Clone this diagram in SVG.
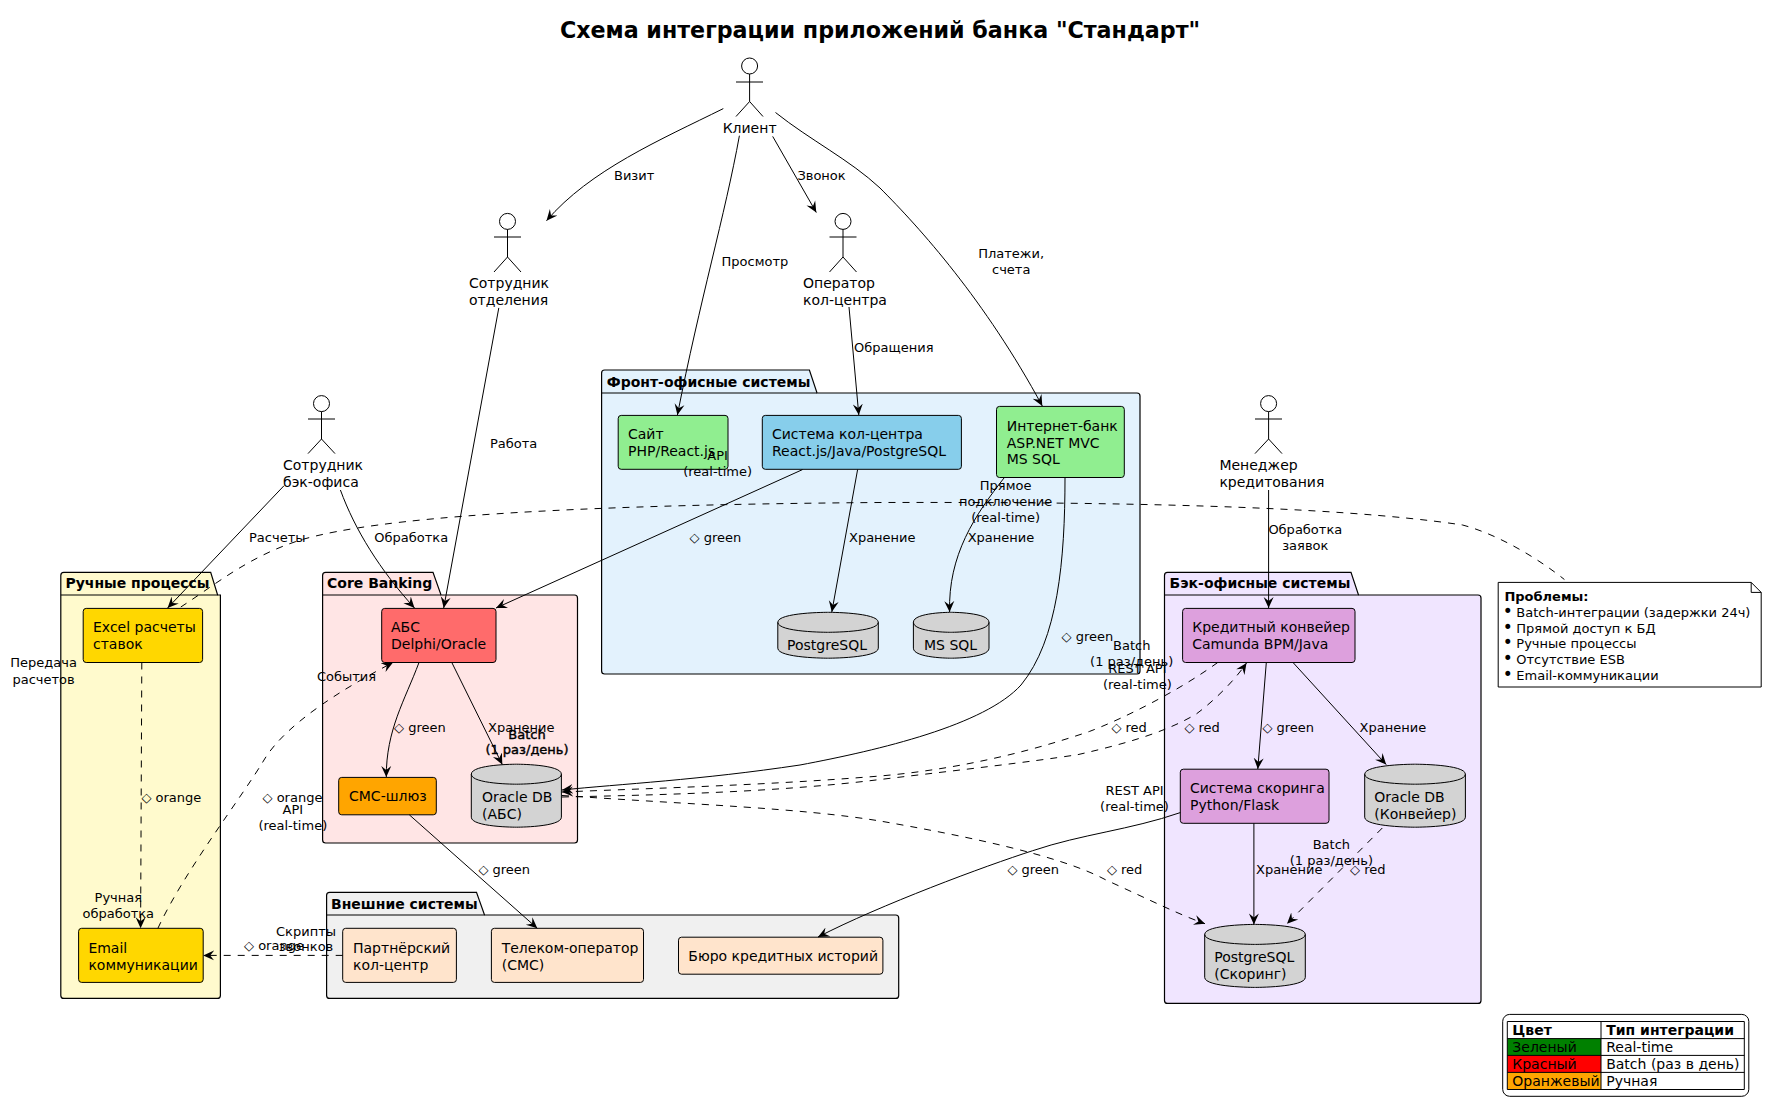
<svg xmlns="http://www.w3.org/2000/svg" width="1767" height="1108" viewBox="0 0 1767 1108">
<defs>
<marker id="a" markerUnits="userSpaceOnUse" markerWidth="14" markerHeight="12" refX="11" refY="6" orient="auto"><path d="M0,1 L11,6 L0,11 L4,6 Z" fill="#000"/></marker>
</defs>
<style>
text{font-family:"DejaVu Sans",sans-serif;fill:#000}
.t{font-size:14px}
.l{font-size:13px}
.m{text-anchor:middle}
.b{font-weight:bold}
.d{stroke-dasharray:7 7}
.e path{fill:none;stroke:#000;stroke-width:1;marker-end:url(#a)}
.p{stroke:#000;stroke-width:1.2}
.n{stroke:#000;stroke-width:1}
.db{fill:#D3D3D3;stroke:#000;stroke-width:1}
.act{fill:none;stroke:#000;stroke-width:1}
.bu{font-size:17px}
</style>
<rect width="1767" height="1108" fill="#fff"/>
<text id="title" x="880" y="38" class="b m" font-size="22.2">Схема интеграции приложений банка "Стандарт"</text>

<g id="pkg-front"><path class="p" fill="#E3F2FD" d="M601.6,393 V373 Q601.6,370 604.6,370 H809.4 L817,393 H1137 Q1140,393 1140,396 V671 Q1140,674 1137,674 H604.6 Q601.6,674 601.6,671 Z"/><path class="p" fill="none" d="M601.6,393 H817"/><text x="606.8" y="387" class="t b">Фронт-офисные системы</text></g>
<g id="pkg-core"><path class="p" fill="#FFE5E5" d="M322.6,595 V575.4 Q322.6,572.4 325.6,572.4 H433 L441,595 H574.5 Q577.5,595 577.5,598 V840 Q577.5,843 574.5,843 H325.6 Q322.6,843 322.6,840 Z"/><path class="p" fill="none" d="M322.6,595 H441"/><text x="327" y="588" class="t b">Core Banking</text></g>
<g id="pkg-manual"><path class="p" fill="#FFFACD" d="M60.8,595 V575.4 Q60.8,572.4 63.8,572.4 H210.7 L217.6,595 H220.4 V995.4 Q220.4,998.4 217.4,998.4 H63.8 Q60.8,998.4 60.8,995.4 Z"/><path class="p" fill="none" d="M60.8,595 H217.6"/><text x="65.4" y="588" class="t b">Ручные процессы</text></g>
<g id="pkg-ext"><path class="p" fill="#F0F0F0" d="M326.6,915 V895.3 Q326.6,892.3 329.6,892.3 H476.5 L484.5,915 H895.7 Q898.7,915 898.7,918 V995.4 Q898.7,998.4 895.7,998.4 H329.6 Q326.6,998.4 326.6,995.4 Z"/><path class="p" fill="none" d="M326.6,915 H484.5"/><text x="331" y="908.7" class="t b">Внешние системы</text></g>
<g id="pkg-back"><path class="p" fill="#F0E5FF" d="M1164.5,595 V575.4 Q1164.5,572.4 1167.5,572.4 H1351 L1358.5,595 H1478 Q1481,595 1481,598 V1000.4 Q1481,1003.4 1478,1003.4 H1167.5 Q1164.5,1003.4 1164.5,1000.4 Z"/><path class="p" fill="none" d="M1164.5,595 H1358.5"/><text x="1169.6" y="588" class="t b">Бэк-офисные системы</text></g>

<g id="n-site"><rect class="n" x="618.2" y="415.4" width="109.8" height="53.9" rx="3" fill="#90EE90"/><text class="t" x="628" y="438.6">Сайт</text><text class="t" x="628" y="455.7">PHP/React.js</text></g>
<g id="n-callcenter"><rect class="n" x="762.3" y="415.4" width="199.1" height="53.9" rx="3" fill="#87CEEB"/><text class="t" x="772" y="438.6">Система кол-центра</text><text class="t" x="772" y="455.7">React.js/Java/PostgreSQL</text></g>
<g id="n-ibank"><rect class="n" x="996.5" y="406.4" width="127.8" height="71.1" rx="3" fill="#90EE90"/><text class="t" x="1006.7" y="430.7">Интернет-банк</text><text class="t" x="1006.7" y="447.5">ASP.NET MVC</text><text class="t" x="1006.7" y="464.3">MS SQL</text></g>
<g id="n-pg"><path class="db" d="M777.8,622.3 C777.8,612.3 828,612.3 828,612.3 C828,612.3 878.3,612.3 878.3,622.3 V648.2 C878.3,658.2 828,658.2 828,658.2 C828,658.2 777.8,658.2 777.8,648.2 Z"/><path class="db" style="fill:none" d="M777.8,622.3 C777.8,632.3 828,632.3 828,632.3 C828,632.3 878.3,632.3 878.3,622.3"/><text class="t" x="787" y="649.6">PostgreSQL</text></g>
<g id="n-mssql"><path class="db" d="M913.4,622.3 C913.4,612.3 951,612.3 951,612.3 C951,612.3 989,612.3 989,622.3 V648.2 C989,658.2 951,658.2 951,658.2 C951,658.2 913.4,658.2 913.4,648.2 Z"/><path class="db" style="fill:none" d="M913.4,622.3 C913.4,632.3 951,632.3 951,632.3 C951,632.3 989,632.3 989,622.3"/><text class="t" x="924" y="649.6">MS SQL</text></g>
<g id="n-abs"><rect class="n" x="381.7" y="608.4" width="114.3" height="54.1" rx="3" fill="#FF6B6B"/><text class="t" x="391" y="631.5">АБС</text><text class="t" x="391" y="648.6">Delphi/Oracle</text></g>
<g id="n-sms"><rect class="n" x="338.7" y="777.4" width="97.6" height="37.4" rx="3" fill="#FFA500"/><text class="t" x="349" y="801">СМС-шлюз</text></g>
<g id="n-oracle-abs"><path class="db" d="M471.3,774.2 C471.3,764.2 516.4,764.2 516.4,764.2 C516.4,764.2 561.4,764.2 561.4,774.2 V817.2 C561.4,827.2 516.4,827.2 516.4,827.2 C516.4,827.2 471.3,827.2 471.3,817.2 Z"/><path class="db" style="fill:none" d="M471.3,774.2 C471.3,784.2 516.4,784.2 516.4,784.2 C516.4,784.2 561.4,784.2 561.4,774.2"/><text class="t" x="482" y="802">Oracle DB</text><text class="t" x="482" y="819.4">(АБС)</text></g>
<g id="n-excel"><rect class="n" x="83.2" y="608.4" width="119.4" height="54.1" rx="3" fill="#FFD700"/><text class="t" x="93" y="631.5">Excel расчеты</text><text class="t" x="93" y="648.6">ставок</text></g>
<g id="n-email"><rect class="n" x="78.6" y="928.3" width="124.6" height="54.1" rx="3" fill="#FFD700"/><text class="t" x="88.4" y="952.8">Email</text><text class="t" x="88.4" y="970">коммуникации</text></g>
<g id="n-partner"><rect class="n" x="342.7" y="928.3" width="113.7" height="54.1" rx="3" fill="#FFE4CC"/><text class="t" x="353" y="952.8">Партнёрский</text><text class="t" x="353" y="970">кол-центр</text></g>
<g id="n-telecom"><rect class="n" x="491.4" y="928.3" width="152.1" height="54.1" rx="3" fill="#FFE4CC"/><text class="t" x="501.7" y="952.8">Телеком-оператор</text><text class="t" x="501.7" y="970">(СМС)</text></g>
<g id="n-bureau"><rect class="n" x="678.5" y="937.2" width="204.4" height="37" rx="3" fill="#FFE4CC"/><text class="t" x="688.3" y="961">Бюро кредитных историй</text></g>
<g id="n-credit"><rect class="n" x="1182.6" y="608.4" width="172.4" height="54.1" rx="3" fill="#DDA0DD"/><text class="t" x="1192.2" y="631.5">Кредитный конвейер</text><text class="t" x="1192.2" y="648.6">Camunda BPM/Java</text></g>
<g id="n-scoring"><rect class="n" x="1180.3" y="769.2" width="148.7" height="54.1" rx="3" fill="#DDA0DD"/><text class="t" x="1190" y="792.7">Система скоринга</text><text class="t" x="1190" y="809.8">Python/Flask</text></g>
<g id="n-oracle-conv"><path class="db" d="M1364.7,774.2 C1364.7,764.2 1415,764.2 1415,764.2 C1415,764.2 1465.4,764.2 1465.4,774.2 V817.2 C1465.4,827.2 1415,827.2 1415,827.2 C1415,827.2 1364.7,827.2 1364.7,817.2 Z"/><path class="db" style="fill:none" d="M1364.7,774.2 C1364.7,784.2 1415,784.2 1415,784.2 C1415,784.2 1465.4,784.2 1465.4,774.2"/><text class="t" x="1374.3" y="802">Oracle DB</text><text class="t" x="1374.3" y="819.4">(Конвейер)</text></g>
<g id="n-pg-scoring"><path class="db" d="M1204.7,934.4 C1204.7,924.4 1255,924.4 1255,924.4 C1255,924.4 1305.3,924.4 1305.3,934.4 V977.4 C1305.3,987.4 1255,987.4 1255,987.4 C1255,987.4 1204.7,987.4 1204.7,977.4 Z"/><path class="db" style="fill:none" d="M1204.7,934.4 C1204.7,944.4 1255,944.4 1255,944.4 C1255,944.4 1305.3,944.4 1305.3,934.4"/><text class="t" x="1214.3" y="961.7">PostgreSQL</text><text class="t" x="1214.3" y="978.8">(Скоринг)</text></g>

<g id="connectors" class="e">
<path d="M723.3,108.6 C660,140 590,170 546.5,220.7"/>
<path d="M739.4,135.7 C725,215 700,300 677.4,415"/>
<path d="M772.7,136.4 L816.3,212.5"/>
<path d="M775.5,112.5 C810,140 850,160 880,188 C920,228 985,300 1042.3,406"/>
<path d="M498.8,307.9 L443.7,608"/>
<path d="M849,307 L858.8,415"/>
<path d="M1268.6,490 V608"/>
<path d="M284,485.7 L167.6,608"/>
<path d="M340.4,490 C355,530 380,570 414.5,608"/>
<path d="M802.5,469.6 L496,608"/>
<path d="M857.6,469.6 L831.8,612"/>
<path d="M1004.4,477.5 C975,515 948,555 949.6,612"/>
<path d="M1065,477.5 C1065,560 1058,640 1021,685 C985,725 880,750 800,765 C700,780 620,784 562,790"/>
<path d="M419,662.5 C405,700 386,730 386.3,777"/>
<path d="M451.8,662.5 L502.3,764.6"/>
<path d="M409.3,814.8 L537.3,928.3"/>
<path class="d" d="M141.8,662.5 L140.6,928.3"/>
<path class="d" d="M157.9,928.3 C185,870 240,800 264,760 C285,725 340,690 393,662.5"/>
<path class="d" d="M342.7,955.4 H203.2"/>
<path class="d" d="M1217.7,662.5 C1180,690 1125,718 1089.3,731.5 C1020,755 950,770 880,776 C770,785 660,788 562,792"/>
<path class="d" d="M562,797 C660,795 780,792 880,779.5 C960,770 1030,762 1078,754.6 C1120,745 1165,733 1196.7,713.7 C1215,700 1235,680 1246.5,663"/>
<path class="d" d="M562,795.5 C700,805 800,808 880,821 C960,835 1060,855 1106,880 C1150,900 1180,915 1205,923.7"/>
<path d="M1266.3,662.5 L1257.8,769"/>
<path d="M1293,662.5 L1386.2,764.6"/>
<path d="M1253.9,823.3 V924.4"/>
<path d="M1180.3,812.6 C1130,830 1082,834 1032.7,850.7 C985,866 880,905 818,937"/>
<path class="d" d="M1382.3,828 L1287,923.7"/>
<path class="d" style="marker-end:none" d="M180.8,607 C215,585 250,555 304,539 C380,518 550,505 880,502.5 C1100,502 1330,505 1462.6,525 C1500,535 1540,560 1564.4,579.5"/>
</g>

<g id="a-client"><ellipse class="act" cx="749.6" cy="66" rx="8" ry="8"/><path class="act" d="M749.6,74 V101.5 M736,82 H763 M736,116.5 L749.6,101.5 L763,116.5"/><text class="t m" x="749.6" y="133">Клиент</text></g>
<g id="a-branch"><ellipse class="act" cx="507.5" cy="221.4" rx="8" ry="8"/><path class="act" d="M507.5,229.4 V257 M494,237 H521 M494,272 L507.5,257 L521,272"/><text class="t" x="469" y="288">Сотрудник</text><text class="t" x="469" y="304.5">отделения</text></g>
<g id="a-operator"><ellipse class="act" cx="843" cy="221.4" rx="8" ry="8"/><path class="act" d="M843,229.4 V257 M829.5,237 H856.5 M829.5,272 L843,257 L856.5,272"/><text class="t" x="803" y="288">Оператор</text><text class="t" x="803" y="304.5">кол-центра</text></g>
<g id="a-backoffice"><ellipse class="act" cx="321.5" cy="403.6" rx="8" ry="8"/><path class="act" d="M321.5,411.6 V439 M308,419 H335 M308,453.6 L321.5,439 L335,453.6"/><text class="t" x="283" y="470">Сотрудник</text><text class="t" x="283" y="487">бэк-офиса</text></g>
<g id="a-manager"><ellipse class="act" cx="1268.6" cy="403.6" rx="8" ry="8"/><path class="act" d="M1268.6,411.6 V439 M1255,419 H1282 M1255,453.6 L1268.6,439 L1282,453.6"/><text class="t" x="1219.4" y="470">Менеджер</text><text class="t" x="1219.4" y="487">кредитования</text></g>

<g id="edge-labels">
<text class="l" x="614" y="179.6">Визит</text>
<text class="l" x="797.4" y="179.6">Звонок</text>
<text class="l" x="721.6" y="266">Просмотр</text>
<text class="l" x="490" y="447.5">Работа</text>
<text class="l" x="854" y="351.8">Обращения</text>
<text class="l m" x="1011.2" y="258">Платежи,</text><text class="l m" x="1011.2" y="274">счета</text>
<text class="l m" x="717.6" y="459.6">API</text><text class="l m" x="717.6" y="476">(real-time)</text>
<text class="l" x="249" y="541.8">Расчеты</text>
<text class="l" x="374.3" y="541.8">Обработка</text>
<text class="l" x="689.6" y="541.8">◇ green</text>
<text class="l" x="849" y="541.8">Хранение</text>
<text class="l" x="967.7" y="541.8">Хранение</text>
<text class="l m" x="1005.6" y="489.6">Прямое</text><text class="l m" x="1005.6" y="506">подключение</text><text class="l m" x="1005.6" y="521.8">(real-time)</text>
<text class="l m" x="1305.3" y="534">Обработка</text><text class="l m" x="1305.3" y="550">заявок</text>
<text class="l m" x="43.6" y="667.4">Передача</text><text class="l m" x="43.6" y="683.5">расчетов</text>
<text class="l" x="316.9" y="680.6">События</text>
<text class="l" x="394" y="731.8">◇ green</text>
<text class="l" x="488" y="731.8">Хранение</text>
<text class="l m" x="527" y="738.6" stroke="#000" stroke-width=".4">Batch</text><text class="l m" x="527" y="754.3" stroke="#000" stroke-width=".4">(1 раз/день)</text>
<text class="l" x="141.4" y="801.6">◇ orange</text>
<text class="l" x="262.5" y="801.6">◇ orange</text>
<text class="l m" x="292.8" y="813.7">API</text><text class="l m" x="292.8" y="829.7">(real-time)</text>
<text class="l" x="478.4" y="873.8">◇ green</text>
<text class="l m" x="118.3" y="901.6">Ручная</text><text class="l m" x="118.3" y="917.6">обработка</text>
<text class="l m" x="306" y="935.8">Скрипты</text><text class="l m" x="306" y="951.4">звонков</text>
<text class="l" x="244" y="950">◇ orange</text>
<text class="l" x="1061.6" y="641">◇ green</text>
<text class="l m" x="1131.7" y="649.6">Batch</text><text class="l m" x="1131.7" y="666.4">(1 раз/день)</text>
<text class="l m" x="1137.4" y="673">REST API</text><text class="l m" x="1137.4" y="688.8">(real-time)</text>
<text class="l" x="1111.4" y="731.5">◇ red</text>
<text class="l" x="1184.4" y="731.5">◇ red</text>
<text class="l" x="1262.4" y="731.5">◇ green</text>
<text class="l" x="1359.6" y="731.5">Хранение</text>
<text class="l m" x="1134.5" y="794.8">REST API</text><text class="l m" x="1134.5" y="810.9">(real-time)</text>
<text class="l" x="1007.4" y="873.8">◇ green</text>
<text class="l" x="1106.9" y="873.8">◇ red</text>
<text class="l m" x="1331.4" y="849">Batch</text><text class="l m" x="1331.4" y="864.6">(1 раз/день)</text>
<text class="l" x="1256" y="873.8">Хранение</text>
<text class="l" x="1350" y="873.8">◇ red</text>
</g>

<g id="note"><path d="M1498.2,582.4 H1751.2 L1761.2,592.4 V687 H1498.2 Z" fill="#fff" stroke="#000"/><path d="M1751.2,582.4 V592.4 H1761.2" fill="none" stroke="#000"/>
<text class="l b" x="1504.4" y="600.5">Проблемы:</text>
<text class="l" x="1502.8" y="617"><tspan class="bu">•</tspan><tspan x="1516.3">Batch-интеграции (задержки 24ч)</tspan></text>
<text class="l" x="1502.8" y="632.5"><tspan class="bu">•</tspan><tspan x="1516.3">Прямой доступ к БД</tspan></text>
<text class="l" x="1502.8" y="648"><tspan class="bu">•</tspan><tspan x="1516.3">Ручные процессы</tspan></text>
<text class="l" x="1502.8" y="664"><tspan class="bu">•</tspan><tspan x="1516.3">Отсутствие ESB</tspan></text>
<text class="l" x="1502.8" y="680"><tspan class="bu">•</tspan><tspan x="1516.3">Email-коммуникации</tspan></text>
</g>

<g id="legend"><rect x="1502.7" y="1014.4" width="246.1" height="81.9" rx="7" fill="#fff" stroke="#000"/>
<rect x="1507.3" y="1038.6" width="93.7" height="16.8" fill="#008000"/><rect x="1507.3" y="1055.4" width="93.7" height="17" fill="#FF0000"/><rect x="1507.3" y="1072.4" width="93.7" height="17.1" fill="#FFA500"/>
<path d="M1507.3,1021.5 H1744.3 V1089.5 H1507.3 Z M1601,1021.5 V1089.5 M1507.3,1038.6 H1744.3 M1507.3,1055.4 H1744.3 M1507.3,1072.4 H1744.3" fill="none" stroke="#000"/>
<text class="t b" x="1512.3" y="1034.7">Цвет</text><text class="t b" x="1606.2" y="1034.7">Тип интеграции</text>
<text class="t" x="1512.3" y="1051.8">Зеленый</text><text class="t" x="1606.2" y="1051.8">Real-time</text>
<text class="t" x="1512.3" y="1068.9">Красный</text><text class="t" x="1606.2" y="1068.9">Batch (раз в день)</text>
<text class="t" x="1512.3" y="1086">Оранжевый</text><text class="t" x="1606.2" y="1086">Ручная</text>
</g>
</svg>
